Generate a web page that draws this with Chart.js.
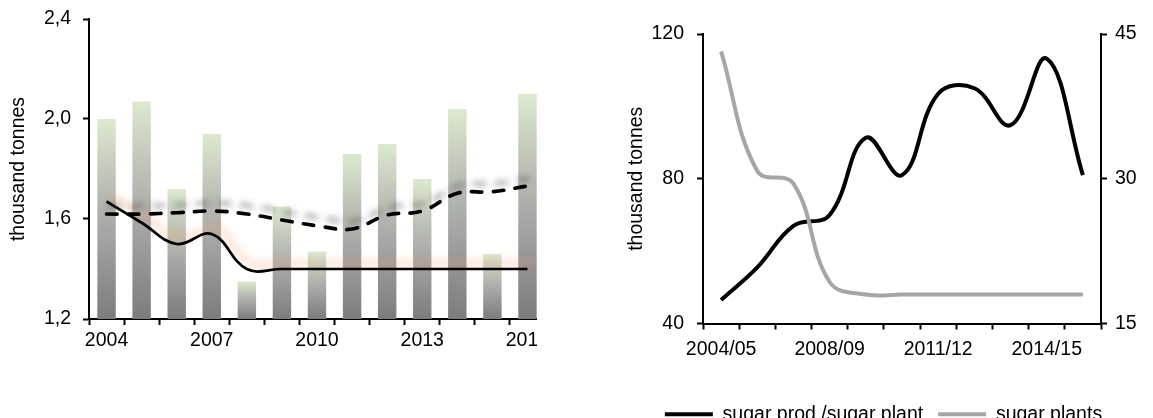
<!DOCTYPE html>
<html>
<head>
<meta charset="utf-8">
<script src="https://cdn.jsdelivr.net/npm/chart.js@4/dist/chart.umd.min.js"></script>
<style>
  html, body { margin: 0; padding: 0; background: #fff; width: 1153px; height: 418px; overflow: hidden; position: relative; }
  #leftPanel { position: absolute; left: 0; top: 0; width: 537px; height: 418px; overflow: hidden; }
  #rightPanel { position: absolute; left: 614px; top: 0; width: 539px; height: 434px; }
  canvas { display: block; }
</style>
</head>
<body>
<div id="leftPanel"><canvas id="yieldChart" width="560" height="418"></canvas></div>
<div id="rightPanel"><canvas id="plantChart" width="539" height="434"></canvas></div>
<script>
// ---------- left panel: yearly bars with two trend lines ----------
const years = ['2004', '2005', '2006', '2007', '2008', '2009', '2010', '2011', '2012', '2013', '2014', '2015', '2016'];
const barValues = [2.0, 2.07, 1.72, 1.94, 1.35, 1.65, 1.47, 1.86, 1.9, 1.76, 2.04, 1.46, 2.1];
const solidTrend = [1.67, 1.585, 1.5, 1.54, 1.4, 1.4, 1.4, 1.4, 1.4, 1.4, 1.4, 1.4, 1.4];
const dashedTrend = [1.62, 1.62, 1.625, 1.632, 1.62, 1.596, 1.573, 1.56, 1.616, 1.632, 1.703, 1.709, 1.732];
const yieldTicks = [1.2, 1.6, 2.0, 2.4];
const yieldYearLabels = ['2004', '2007', '2010', '2013', '2016'];

// ---------- right panel: output per plant vs number of plants ----------
const seasons = ['2004/05', '2005/06', '2006/07', '2008/09', '2009/10', '2010/11', '2011/12', '2012/13', '2013/14', '2014/15', '2015/16'];
const prodPerPlant = [46.5, 55.5, 67, 70, 91.3, 81, 103.5, 105, 94.8, 113.2, 81];
const plantCount = [43.2, 30.8, 29.5, 19.3, 18, 18, 18, 18, 18, 18, 18];
const prodTicks = [40, 80, 120];
const plantTicks = [15, 30, 45];
const seasonLabels = ['2004/05', '2008/09', '2011/12', '2014/15'];

Chart.defaults.font.family = '"Liberation Sans", Arial, Helvetica, sans-serif';
Chart.defaults.font.size = 19.5;
Chart.defaults.color = '#000';

// soft drop shadow behind selected line datasets
const lineGlow = {
  id: 'lineGlow',
  beforeDatasetDraw(chart, args) {
    const g = chart.data.datasets[args.index].glow;
    if (!g) return;
    const c = chart.ctx;
    c.save();
    c.shadowColor = g.color;
    c.shadowBlur = g.blur;
    c.shadowOffsetX = g.dx;
    c.shadowOffsetY = g.dy;
  },
  afterDatasetDraw(chart, args) {
    if (chart.data.datasets[args.index].glow) chart.ctx.restore();
  }
};

// fixed axis box sizes so the plot areas sit where they should
const fixWidth = w => s => { s.width = w; s.paddingTop = s.paddingBottom = s.paddingLeft = s.paddingRight = 0; };
const fixHeight = h => s => { s.height = h; s.paddingTop = s.paddingBottom = s.paddingLeft = s.paddingRight = 0; };
const fixedTicks = values => s => { s.ticks = values.map(v => ({ value: v })); };

const axisLine = { display: true, color: '#000', width: 2 };
const tickMarks = { drawOnChartArea: false, drawTicks: true, tickLength: 6, tickWidth: 2, tickColor: '#000' };

// bars fade from pale green at the top to grey at the base
function barFill(ctx) {
  const chart = ctx.chart;
  const area = chart.chartArea;
  if (!area || ctx.raw == null) return '#a6a6a6';
  const top = chart.scales.y.getPixelForValue(ctx.raw);
  const g = chart.ctx.createLinearGradient(0, top, 0, area.bottom);
  g.addColorStop(0, '#dce9cf');
  g.addColorStop(0.3, '#bec3b7');
  g.addColorStop(0.6, '#a3a3a3');
  g.addColorStop(1, '#7c7c7c');
  return g;
}

new Chart(document.getElementById('yieldChart'), {
  type: 'bar',
  data: {
    labels: years,
    datasets: [
      {
        type: 'line', data: solidTrend, order: 1,
        borderColor: '#000', borderWidth: 2.7, tension: 0.4,
        pointRadius: 0, fill: false,
        glow: { color: 'rgba(245,170,120,0.85)', blur: 8, dx: 4, dy: -6 }
      },
      {
        type: 'line', data: dashedTrend, order: 0,
        borderColor: '#000', borderWidth: 3.7, tension: 0.4,
        borderDash: [10.5, 11.5], borderCapStyle: 'round',
        pointRadius: 0, fill: false,
        glow: { color: 'rgba(80,80,80,0.6)', blur: 6, dx: 3, dy: -8 }
      },
      {
        type: 'bar', data: barValues, order: 2,
        backgroundColor: barFill, borderWidth: 0,
        barPercentage: 0.525, categoryPercentage: 1
      }
    ]
  },
  options: {
    responsive: false,
    devicePixelRatio: 1,
    animation: false,
    events: [],
    layout: { padding: { top: 19, right: 15, left: 0, bottom: 0 } },
    plugins: { legend: { display: false }, tooltip: { enabled: false } },
    scales: {
      x: {
        offset: true,
        grid: Object.assign({ offset: true }, tickMarks),
        border: axisLine,
        ticks: {
          autoSkip: false, maxRotation: 0, padding: 4,
          callback(v) { const l = this.getLabelForValue(v); return yieldYearLabels.includes(l) ? l : ''; }
        },
        afterFit: fixHeight(99)
      },
      y: {
        min: 1.2, max: 2.4,
        afterBuildTicks: fixedTicks(yieldTicks),
        grid: tickMarks,
        border: axisLine,
        ticks: { padding: 12, callback: v => v.toFixed(1).replace('.', ',') },
        title: { display: true, text: 'thousand tonnes', padding: { top: 7, bottom: 0 } },
        afterFit: fixWidth(89)
      }
    }
  },
  plugins: [lineGlow]
});

new Chart(document.getElementById('plantChart'), {
  type: 'line',
  data: {
    labels: seasons,
    datasets: [
      {
        label: 'sugar prod /sugar plant', data: prodPerPlant, yAxisID: 'y', order: 1,
        borderColor: '#000', borderWidth: 4, tension: 0.4, pointRadius: 0, fill: false
      },
      {
        label: 'sugar plants', data: plantCount, yAxisID: 'y2', order: 0,
        borderColor: '#a6a6a6', borderWidth: 4, tension: 0.4, pointRadius: 0, fill: false
      }
    ]
  },
  options: {
    responsive: false,
    devicePixelRatio: 1,
    animation: false,
    events: [],
    layout: { padding: { top: 34, right: 0, left: 0, bottom: 0 } },
    plugins: {
      tooltip: { enabled: false },
      legend: {
        position: 'bottom',
        labels: {
          usePointStyle: true, pointStyle: 'line', pointStyleWidth: 48,
          padding: 15, color: '#000', font: { size: 19.5 },
          sort: (a, b) => a.datasetIndex - b.datasetIndex
        }
      }
    },
    scales: {
      x: {
        offset: true,
        grid: Object.assign({ offset: true }, tickMarks),
        border: axisLine,
        ticks: {
          autoSkip: false, maxRotation: 0, padding: 8,
          callback(v) { const l = this.getLabelForValue(v); return seasonLabels.includes(l) ? l : ''; }
        },
        afterFit: fixHeight(66)
      },
      y: {
        position: 'left', min: 40, max: 120,
        afterBuildTicks: fixedTicks(prodTicks),
        grid: tickMarks,
        border: axisLine,
        ticks: { padding: 13 },
        title: { display: true, text: 'thousand tonnes', padding: { top: 11, bottom: 0 } },
        afterFit: fixWidth(89)
      },
      y2: {
        position: 'right', min: 15, max: 45,
        afterBuildTicks: fixedTicks(plantTicks),
        grid: tickMarks,
        border: axisLine,
        ticks: { padding: 8 },
        afterFit: fixWidth(52)
      }
    }
  }
});
</script>
</body>
</html>
